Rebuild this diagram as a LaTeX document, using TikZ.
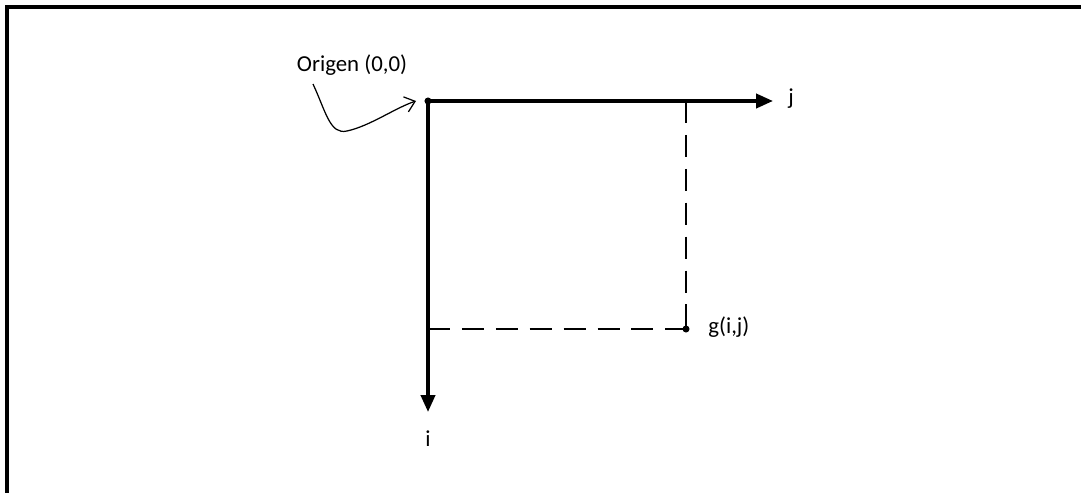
\documentclass[tikz,border=0pt]{standalone}
\usepackage{fontspec}
\setmainfont{Carlito}
\usetikzlibrary{positioning,arrows.meta}

\begin{document}
\begin{tikzpicture}[
      x=0.02cm, y=-0.02cm,
      font=\fontsize{13}{15}\selectfont,
      axis/.style={line width=2pt, -{Triangle[length=9.6pt,width=8pt]}},
      guide/.style={line width=0.8pt, dash pattern=on 12.5pt off 6.8pt},
      pointer/.style={line width=0.7pt, -{Straight Barb[length=5.5pt,width=9pt]}},
      dot/.style={circle, fill, inner sep=0pt, minimum size=4pt},
      lbl/.style={inner sep=0pt, anchor=base}
    ]
    \useasboundingbox (0,0) rectangle (1081,493);

    % frame (top and left only)
    \draw[line width=2pt] (7,493) -- (7,7) -- (1081,7);

    % axes
    \coordinate (O) at (428,101);
    \coordinate (jend) at (773,101);
    \coordinate (iend) at (428,412);
    \draw[axis] (O) -- (jend);
    \draw[axis] (O) -- (iend);
    \node[dot] (orig) at (O) {};
    \node[lbl] (jlab) at (791,105) {j};
    \node[lbl] (ilab) at (428,446) {i};

    % point g(i,j) and its projections
    \node[dot] (g) at (686,329) {};
    \coordinate (gj) at (686,101);
    \coordinate (gi) at (428,329);
    \draw[guide] (gj) -- (g.center);
    \draw[guide] (gi) -- (g.center);
    \node[lbl, anchor=base west] (glab) at (708,333) {g(i,j)};

    % origin label
    \node[lbl] (olab) at (352,72) {Origen (0,0)};
    \coordinate (tail) at (313,84);
    \draw[pointer] (tail) .. controls (326,112) and (330,135) .. (347,131)
                   .. controls (370,126) and (395,108) .. (416,101);
  \end{tikzpicture}
\end{document}
